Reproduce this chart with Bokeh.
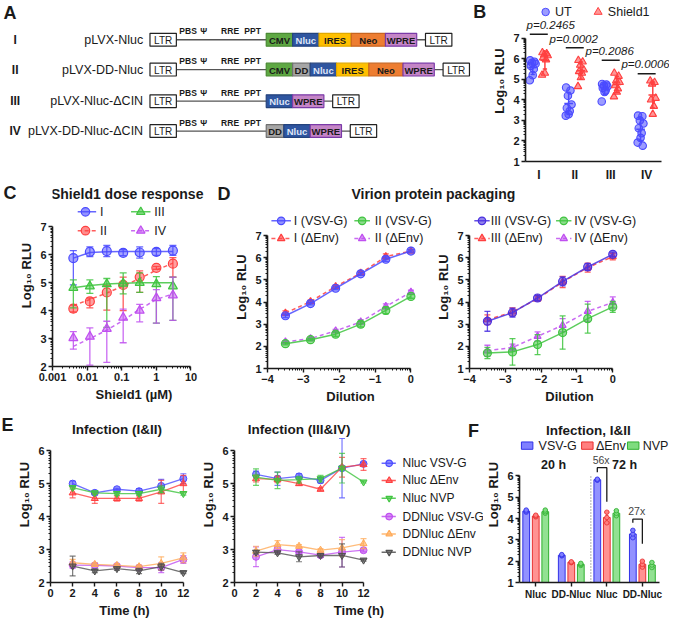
import numpy as np
from bokeh.plotting import figure
from bokeh.models import Range1d, FixedTicker, Label
from bokeh.layouts import row, column
from bokeh.embed import file_html
from bokeh.resources import INLINE
from bokeh.core.properties import value

FONT = "Liberation Sans"
INK = "#1a1a1a"
BLUE = "#4b4bff"
RED = "#ff4040"
GREEN = "#40c440"
PURPLE = "#c050f0"
ORANGE = "#ffab5a"
GRAY = "#505050"
INDIGO = "#4a30e0"

# ---------------- data ----------------
# A: constructs
A_roman = ["I", "II", "III", "IV"]
A_names = ["pLVX-Nluc", "pLVX-DD-Nluc", "pLVX-Nluc-ΔCIN", "pLVX-DD-Nluc-ΔCIN"]
A_cassettes = [["CMV", "Nluc", "IRES", "Neo", "WPRE"],
               ["CMV", "DD", "Nluc", "IRES", "Neo", "WPRE"],
               ["Nluc", "WPRE"],
               ["DD", "Nluc", "WPRE"]]
A_sites = ["PBS", "Ψ", "RRE", "PPT"]

# B: Log10 RLU per replicate
B_groups = ["I", "II", "III", "IV"]
B_UT = [[5.92, 5.85, 5.80, 5.75, 5.65, 5.50, 5.20, 4.95],
        [4.60, 4.45, 4.20, 3.77, 3.60, 3.45, 3.30, 3.23],
        [4.77, 4.74, 4.69, 4.65, 4.58, 4.46, 4.38, 3.92],
        [3.23, 3.20, 3.00, 2.85, 2.62, 2.38, 2.15, 1.92, 1.77]]
B_S1 = [[6.30, 6.25, 6.20, 6.15, 6.05, 5.95, 5.30, 5.20],
        [5.92, 5.85, 5.69, 5.46, 5.38, 5.30, 5.08, 4.65],
        [5.30, 5.15, 4.92, 4.85, 4.69, 4.54, 4.38, 4.15],
        [4.92, 4.85, 4.77, 4.08, 4.00, 3.69, 3.30]]
B_p = ["p=0.2465", "p=0.0002", "p=0.2086", "p=0.0006"]

# C: Shield1 dose response
C_dose = [0.004, 0.012, 0.037, 0.11, 0.33, 1.0, 3.0]
C_names = ["I", "II", "III", "IV"]
C_mean = [[5.88, 6.10, 6.13, 6.07, 6.08, 6.10, 6.15],
          [4.07, 4.33, 4.65, 4.92, 5.20, 5.53, 5.68],
          [4.82, 4.87, 4.95, 4.97, 5.00, 4.95, 4.87],
          [3.02, 3.07, 3.35, 3.75, 4.00, 4.45, 4.55]]
C_lo = [[4.92, 5.93, 5.93, 5.97, 5.88, 5.98, 5.98],
        [3.95, 4.10, 4.02, 4.00, 4.65, 5.48, 5.20],
        [4.10, 4.62, 3.40, 4.60, 4.65, 3.55, 3.65],
        [2.62, 2.05, 2.15, 2.85, 3.60, 3.55, 3.65]]
C_hi = [[6.15, 6.28, 6.33, 6.18, 6.28, 6.22, 6.33],
        [4.20, 4.45, 4.90, 5.20, 5.42, 5.58, 5.90],
        [5.10, 5.10, 5.15, 5.35, 5.35, 5.22, 5.20],
        [3.25, 3.38, 3.62, 4.05, 4.22, 4.75, 5.20]]
C_fit = [[5.88, 6.08, 6.11, 6.12, 6.12, 6.12, 6.12],
         [4.18, 4.40, 4.63, 4.88, 5.15, 5.45, 5.70],
         [4.82, 4.90, 4.95, 4.98, 5.00, 5.00, 5.00],
         [2.72, 3.00, 3.30, 3.65, 4.05, 4.40, 4.60]]

# D: virion protein packaging
D_dil = [-3.5, -2.8, -2.1, -1.4, -0.7, 0.0]
D_left_names = ["I (VSV-G)", "II (VSV-G)", "I (ΔEnv)", "II (ΔEnv)"]
D_left_mean = [[3.38, 3.93, 4.62, 5.27, 5.93, 6.30],
               [2.12, 2.30, 2.55, 3.00, 3.62, 4.25],
               [3.50, 4.02, 4.70, 5.30, 6.05, 6.30],
               [2.20, 2.35, 2.70, 3.10, 3.80, 4.45]]
D_left_err = [[0.08, 0.06, 0.06, 0.07, 0.10, 0.05],
              [0.05, 0.05, 0.10, 0.12, 0.15, 0.08],
              [0.10, 0.06, 0.06, 0.06, 0.12, 0.06],
              [0.05, 0.05, 0.06, 0.10, 0.12, 0.08]]
D_right_names = ["III (VSV-G)", "IV (VSV-G)", "III (ΔEnv)", "IV (ΔEnv)"]
D_right_mean = [[3.13, 3.52, 4.18, 4.93, 5.58, 6.15],
                [1.70, 1.75, 2.08, 2.62, 3.25, 3.78],
                [3.20, 3.55, 4.15, 4.90, 5.55, 6.05],
                [1.80, 1.95, 2.45, 2.95, 3.58, 3.98]]
D_right_err = [[0.45, 0.20, 0.12, 0.20, 0.15, 0.10],
               [0.25, 0.60, 0.45, 0.75, 0.65, 0.25],
               [0.22, 0.18, 0.12, 0.25, 0.20, 0.15],
               [0.25, 0.15, 0.20, 0.30, 0.45, 0.25]]

# E: infection time course
E_time = [2, 4, 6, 8, 10, 12]
E_names = ["Nluc VSV-G", "Nluc ΔEnv", "Nluc NVP", "DDNluc VSV-G", "DDNluc ΔEnv", "DDNluc NVP"]
E12_mean = [[5.00, 4.72, 4.83, 4.77, 4.93, 5.15],
            [4.72, 4.55, 4.55, 4.55, 4.75, 5.00],
            [4.88, 4.72, 4.70, 4.70, 4.83, 4.70],
            [2.53, 2.52, 2.50, 2.45, 2.45, 2.70],
            [2.60, 2.55, 2.52, 2.48, 2.58, 2.75],
            [2.50, 2.35, 2.42, 2.35, 2.48, 2.30]]
E12_err = [[0.08, 0.05, 0.03, 0.08, 0.20, 0.15],
           [0.15, 0.15, 0.08, 0.08, 0.35, 0.25],
           [0.05, 0.05, 0.05, 0.05, 0.10, 0.05],
           [0.10, 0.05, 0.05, 0.05, 0.15, 0.12],
           [0.10, 0.05, 0.05, 0.05, 0.20, 0.15],
           [0.30, 0.05, 0.05, 0.08, 0.10, 0.03]]
E34_mean = [[5.28, 5.15, 5.22, 5.10, 5.47, 5.60],
            [5.15, 5.13, 5.00, 4.83, 5.50, 5.58],
            [5.20, 5.10, 5.12, 5.15, 5.47, 5.05],
            [2.78, 3.00, 2.93, 2.83, 2.92, 2.98],
            [2.95, 3.15, 3.10, 2.98, 3.05, 3.18],
            [2.92, 2.90, 2.78, 2.82, 2.82, 2.68]]
E34_err = [[0.10, 0.20, 0.08, 0.08, 0.90, 0.05],
           [0.10, 0.10, 0.05, 0.05, 0.30, 0.18],
           [0.25, 0.25, 0.10, 0.10, 0.45, 0.03],
           [0.30, 0.10, 0.05, 0.05, 0.45, 0.05],
           [0.15, 0.12, 0.05, 0.05, 0.25, 0.15],
           [0.05, 0.05, 0.15, 0.05, 0.35, 0.03]]

# F: infection I&II bars (replicates)
F_groups = ["Nluc", "DD-Nluc", "Nluc", "DD-Nluc"]
F_conditions = ["VSV-G", "ΔEnv", "NVP"]
F_reps = [
    [[4.30, 4.35, 4.40], [2.25, 2.28, 2.31], [5.80, 5.82, 5.85], [3.10, 3.28, 3.45]],
    [[4.08, 4.12, 4.16], [1.93, 1.95, 1.97], [3.80, 4.05, 4.30], [1.72, 1.85, 2.00]],
    [[4.25, 4.32, 4.40], [1.80, 1.85, 1.90], [4.13, 4.25, 4.37], [1.70, 1.82, 1.94]],
]
F_fold = ["56x", "27x"]


# ---------------- helpers ----------------
def log_minor(lo, hi):
    return [k + np.log10(m) for k in range(lo, hi) for m in range(2, 10)]


def style_axes(p):
    for ax in p.axis:
        ax.axis_line_width = 1.6
        ax.axis_line_color = INK
        ax.major_tick_line_width = 1.4
        ax.major_tick_line_color = INK
        ax.minor_tick_line_width = 1.0
        ax.minor_tick_line_color = INK
        ax.major_tick_in = 0
        ax.major_tick_out = 4
        ax.minor_tick_in = 0
        ax.minor_tick_out = 2
        ax.major_label_text_font = FONT
        ax.major_label_text_font_style = "bold"
        ax.major_label_text_font_size = "11px"
        ax.major_label_text_color = INK
        ax.major_label_standoff = 2
        ax.axis_label_text_font = FONT
        ax.axis_label_text_font_style = "bold"
        ax.axis_label_text_font_size = "13px"
        ax.axis_label_text_color = INK
        ax.axis_label_standoff = 3


def mkfig(w, h, xr, yr, left, bottom, x_type="linear"):
    p = figure(width=w, height=h, x_range=Range1d(*xr), y_range=Range1d(*yr),
               x_axis_type=x_type, output_backend="svg", toolbar_location=None,
               min_border_left=left, min_border_right=0, min_border_top=0,
               min_border_bottom=bottom)
    p.outline_line_color = None
    p.xgrid.visible = False
    p.ygrid.visible = False
    style_axes(p)
    return p


def blank(w, h, xr, yr):
    p = figure(width=w, height=h, x_range=Range1d(*xr), y_range=Range1d(*yr),
               x_axis_location=None, y_axis_location=None, min_border=0,
               output_backend="svg", toolbar_location=None)
    p.outline_line_color = None
    p.grid.visible = False
    return p


def lbl(p, x, y, text, size="12px", style="normal", align="left", color=INK):
    p.add_layout(Label(x=x, y=y, text=text, text_font=FONT, text_font_size=size,
                       text_font_style=style, text_align=align, text_baseline="middle",
                       text_color=color))


def errbars(p, x, lo, hi, color, cap=6, width=1.3, alpha=0.85):
    x = list(x)
    p.segment(x0=x, y0=list(lo), x1=x, y1=list(hi), line_color=color,
              line_width=width, line_alpha=alpha)
    p.scatter(x=x * 2, y=list(lo) + list(hi), marker="dash", size=cap,
              line_color=color, line_width=width, line_alpha=alpha)


def legend_item(p, x0, x1, xm, xt, y, color, marker, dash, text, size=8, tsize="12.5px"):
    p.segment(x0=[x0], y0=[y], x1=[x1], y1=[y], line_color=color, line_width=1.5,
              line_dash=dash, line_alpha=0.85)
    p.scatter(x=[xm], y=[y], marker=marker, size=size, fill_color=color, fill_alpha=0.6,
              line_color=color, line_width=1.2)
    lbl(p, xt, y, text, tsize)


# ---------------- panel A (also hosts letter B) ----------------
pa = blank(489, 184, (0, 489 / 0.977), (188.7, 0))
ELEM_W = {"CMV": 27, "DD": 18, "Nluc": 27, "IRES": 33, "Neo": 35, "WPRE": 32, "LTR": 27}
ELEM_FILL = {"CMV": "#5ea843", "DD": "#a6a6a6", "Nluc": "#2e55a0", "IRES": "#ffc000",
             "Neo": "#ed7d31", "WPRE": "#c485c6", "LTR": "#ffffff"}
ELEM_LINE = {"CMV": "#4a8a33", "DD": "#707070", "Nluc": "#24437d", "IRES": "#e0a800",
             "Neo": "#c86520", "WPRE": "#7a3aa8", "LTR": "#222222"}
ELEM_TXT = {"Nluc": "#dfe5f7"}
rows_y = [46, 81, 118, 153]
site_x = [192, 208, 235, 258]
q = dict(l=[], r=[], t=[], b=[], f=[], c=[])
segs = dict(x0=[], x1=[], y=[])
for i, (rn, name, cas) in enumerate(zip(A_roman, A_names, A_cassettes)):
    y = rows_y[i]
    lbl(pa, 15, y, rn, "12px", "bold", "center")
    lbl(pa, 146, y, name, "12.5px", "normal", "right")
    elems = [("LTR", 153)]
    x = 272
    for e in cas:
        elems.append((e, x))
        x += ELEM_W[e]
    segs["x0"] += [180, x]
    segs["x1"] += [272, x + 9]
    segs["y"] += [y, y]
    elems.append(("LTR", x + 9))
    for e, x0 in elems:
        w = ELEM_W[e]
        q["l"].append(x0); q["r"].append(x0 + w)
        q["t"].append(y - 7.5); q["b"].append(y + 7.5)
        q["f"].append(ELEM_FILL[e]); q["c"].append(ELEM_LINE[e])
        lbl(pa, x0 + w / 2, y + 0.5, e, "10px" if e == "LTR" else "9.5px",
            "normal" if e == "LTR" else "bold", "center", ELEM_TXT.get(e, INK))
    for s, sx in zip(A_sites, site_x):
        lbl(pa, sx, y - 10, s, "8.5px", "bold", "center")
pa.segment(x0=segs["x0"], y0=segs["y"], x1=segs["x1"], y1=segs["y"], line_color="#555555",
           line_width=1.3)
pa.quad(left=q["l"], right=q["r"], top=q["t"], bottom=q["b"], fill_color=q["f"],
        line_color=q["c"], line_width=1.2)
lbl(pa, 3, 15, "A", "18px", "bold", "left")
lbl(pa, 484, 13, "B", "18px", "bold", "left")

# ---------------- panel B ----------------
pb = mkfig(180, 184, (0.63, 4.635), (1, 8.83), 33, 21)
pb.xaxis.bounds = (0.63, 4.42)
pb.yaxis.bounds = (1, 7)
pb.xaxis.ticker = FixedTicker(ticks=[1, 2, 3, 4])
pb.xaxis.major_label_overrides = {i + 1: g for i, g in enumerate(B_groups)}
pb.xaxis.major_tick_out = 0
pb.xaxis.major_label_standoff = 6
pb.xaxis.major_label_text_font_size = "12px"
pb.yaxis.ticker = FixedTicker(ticks=list(range(1, 8)), minor_ticks=log_minor(1, 7))
pb.yaxis.axis_label = "Log₁₀ RLU"
JIT = [-0.07, 0.05, -0.02, 0.08, -0.05, 0.03, 0.0, -0.08, 0.06]
for gi, (ut, s1) in enumerate(zip(B_UT, B_S1)):
    xc = gi + 1
    for vals, off, color, marker in ((ut, -0.17, BLUE, "circle"), (s1, 0.17, RED, "triangle")):
        xs = [xc + off + JIT[k] for k in range(len(vals))]
        pb.scatter(xs, vals, marker=marker, size=7.5, fill_color=color, fill_alpha=0.55,
                   line_color=color, line_width=1.1)
        m = float(np.mean(vals)); sd = float(np.std(vals, ddof=1))
        xm = xc + off
        pb.segment(x0=[xm, xm - 0.12, xm - 0.06, xm - 0.06], y0=[m - sd, m, m - sd, m + sd],
                   x1=[xm, xm + 0.12, xm + 0.06, xm + 0.06], y1=[m + sd, m, m - sd, m + sd],
                   line_color=color, line_width=1.5)
B_line_y = [7.19, 6.53, 5.92, 5.27]
B_text_y = [7.66, 6.95, 6.39, 5.73]
pb.segment(x0=[g + 0.75 for g in range(4)], y0=B_line_y, x1=[g + 1.25 for g in range(4)],
           y1=B_line_y, line_color=INK, line_width=1.5)
lbl(pb, 0.66, B_text_y[0], B_p[0], "11.5px", "italic", "left")
for gi in range(1, 4):
    lbl(pb, gi + 0.97, B_text_y[gi], B_p[gi], "11.5px", "italic", "center")
pb.scatter([1.19], [8.27], marker="circle", size=7.5, fill_color=BLUE, fill_alpha=0.55,
           line_color=BLUE)
lbl(pb, 1.45, 8.27, "UT", "12.5px")
pb.scatter([2.65], [8.27], marker="triangle", size=8, fill_color=RED, fill_alpha=0.55,
           line_color=RED)
lbl(pb, 2.92, 8.27, "Shield1", "12.5px")

# ---------------- panel C ----------------
plc = blank(16, 222, (0, 16 / 0.977), (188.7 + 222 / 0.975, 188.7))
lbl(plc, 3, 199, "C", "18px", "bold")
cx = lambda rx: 10 ** (-3 + (rx - 52) / 35.7)
cy = lambda ry: 7 + (232 - ry) / 28.6
pc = mkfig(199, 222, (0.001, cx(16 / 0.977 + 199 / 0.977)), (2, cy(188.7)), 35, 40, "log")
pc.xaxis.bounds = (0.001, 10)
pc.yaxis.bounds = (2, 7)
pc.xaxis.ticker = FixedTicker(ticks=[0.001, 0.01, 0.1, 1, 10],
                              minor_ticks=[m * 10.0 ** d for d in range(-3, 1) for m in range(2, 10)])
pc.xaxis.major_label_overrides = {0.001: "0.001", 0.01: "0.01", 0.1: "0.1", 1: "1", 10: "10"}
pc.yaxis.ticker = FixedTicker(ticks=list(range(2, 8)), minor_ticks=log_minor(2, 7))
pc.xaxis.axis_label = "Shield1 (µM)"
pc.yaxis.axis_label = "Log₁₀ RLU"
C_style = [(BLUE, "circle", "solid"), (RED, "circle", "4 3"),
           (GREEN, "triangle", "solid"), (PURPLE, "triangle", "4 3")]
for si, (color, marker, dash) in enumerate(C_style):
    errbars(pc, C_dose, C_lo[si], C_hi[si], color, 7)
    pc.line(C_dose, C_fit[si], line_color=color, line_width=1.5, line_dash=dash, line_alpha=0.85)
    pc.scatter(C_dose, C_mean[si], marker=marker, size=9, fill_color=color, fill_alpha=0.5,
               line_color=color, line_width=1.2)
C_leg_pos = [(78, 97, 86, 101, 216.7), (78, 97, 86, 101, 236), (133, 153, 143, 157, 216.7),
             (133, 153, 143, 157, 236)]
for si in range(4):
    x0, x1, xm, xt, yy = C_leg_pos[si]
    color, marker, dash = C_style[si]
    legend_item(pc, cx(x0), cx(x1), cx(xm), cx(xt), cy(yy), color, marker, dash, C_names[si], 8.5)
lbl(pc, cx(129), cy(198), "Shield1 dose response", "14px", "bold", "center")

# ---------------- panel D ----------------
pdh = blank(454, 21, (220, 220 + 454 / 0.977), (210.2, 188.7))
lbl(pdh, 222, 198.5, "D", "18px", "bold")
lbl(pdh, 443, 198.5, "Virion protein packaging", "14px", "bold", "center")

d_y = lambda ry: 7 + (241 - ry) / 22.67
D_style_l = [(BLUE, "circle", "solid"), (GREEN, "circle", "solid"),
             (RED, "triangle", "4 3"), (PURPLE, "triangle", "4 3")]
D_style_r = [(INDIGO, "circle", "solid"), (GREEN, "circle", "solid"),
             (RED, "triangle", "4 3"), (PURPLE, "triangle", "4 3")]


def dplot(w, left, fx, right_rx, means, errs, names, styles, legx):
    p = mkfig(w, 201, (-4, fx(right_rx)), (1, d_y(210.3)), left, 38)
    p.xaxis.bounds = (-4, 0)
    p.yaxis.bounds = (1, 7)
    p.xaxis.ticker = FixedTicker(ticks=[-4, -3, -2, -1, 0], minor_ticks=log_minor(-4, 0))
    p.yaxis.ticker = FixedTicker(ticks=list(range(1, 8)), minor_ticks=log_minor(1, 7))
    p.xaxis.axis_label = "Dilution"
    p.yaxis.axis_label = "Log₁₀ RLU"
    for si in [2, 3, 0, 1]:
        color, marker, dash = styles[si]
        lo = [m - e for m, e in zip(means[si], errs[si])]
        hi = [m + e for m, e in zip(means[si], errs[si])]
        errbars(p, D_dil, lo, hi, color, 6)
        p.line(D_dil, means[si], line_color=color, line_width=1.5, line_dash=dash, line_alpha=0.85)
        p.scatter(D_dil, means[si], marker=marker, size=8 if marker == "circle" else 7,
                  fill_color=color, fill_alpha=0.55, line_color=color, line_width=1.2)
    for si in range(4):
        color, marker, dash = styles[si]
        x0, x1, xm, xt = legx[si % 2]
        yy = d_y(226) if si < 2 else d_y(244)
        legend_item(p, fx(x0), fx(x1), fx(xm), fx(xt), yy, color, marker, dash, names[si], 7.5)
    return p


dl_x = lambda rx: -4 + (rx - 273) / 36.75
dr_x = lambda rx: -4 + (rx - 477) / 37.25
pdl = dplot(218, 52, dl_x, 220 + 218 / 0.977, D_left_mean, D_left_err, D_left_names, D_style_l,
            [(277, 297, 287, 300), (362, 378, 370, 383)])
pdr = dplot(236, 33, dr_x, 685, D_right_mean, D_right_err, D_right_names, D_style_r,
            [(482, 498, 490, 499), (567, 583, 575, 586)])

# ---------------- panel E ----------------
e_y = lambda ry: 6 + (462 - ry) / 34
ple = blank(14, 214, (0, 14 / 0.977), (416.4 + 214 / 0.975, 416.4))
lbl(ple, 1, 440, "E", "18px", "bold")
E_style = [(BLUE, "circle"), (RED, "triangle"), (GREEN, "inverted_triangle"),
           (PURPLE, "circle"), (ORANGE, "triangle"), (GRAY, "inverted_triangle")]


def eplot(w, left, fx, right_rx, means, errs, title):
    p = mkfig(w, 214, (0, fx(right_rx)), (2, e_y(416.4)), left, 37)
    p.xaxis.bounds = (0, 12)
    p.yaxis.bounds = (2, 6)
    p.xaxis.ticker = FixedTicker(ticks=list(range(0, 13, 2)))
    p.yaxis.ticker = FixedTicker(ticks=list(range(2, 7)), minor_ticks=log_minor(2, 6))
    p.xaxis.axis_label = "Time (h)"
    p.yaxis.axis_label = "Log₁₀ RLU"
    for si in range(6):
        color, marker = E_style[si]
        lo = [m - e for m, e in zip(means[si], errs[si])]
        hi = [m + e for m, e in zip(means[si], errs[si])]
        errbars(p, E_time, lo, hi, color, 6, 1.2, 0.75)
        p.line(E_time, means[si], line_color=color, line_width=1.3, line_alpha=0.8)
        p.scatter(E_time, means[si], marker=marker, size=7, fill_color=color, fill_alpha=0.6,
                  line_color=color, line_width=1.0)
    lbl(p, 6, e_y(440), title, "13.5px", "bold", "center")
    return p


el_x = lambda rx: (rx - 50) / 11.42
er_x = lambda rx: (rx - 232) / 11.33
E_left_end = (14 + 184) / 0.977
E_right_end = (14 + 184 + 285) / 0.977
pel = eplot(184, 35, el_x, E_left_end, E12_mean, E12_err, "Infection (I&II)")
per = eplot(285, 29, er_x, E_right_end, E34_mean, E34_err, "Infection (III&IV)")
E_leg_y = [475, 492.7, 511, 530, 548, 566.7]
for si in range(6):
    color, marker = E_style[si]
    legend_item(per, er_x(387), er_x(402), er_x(395), er_x(409), e_y(E_leg_y[si]), color, marker,
                "solid", E_names[si], 6.5, "12px")
lbl(per, er_x(478), e_y(442), "F", "18px", "bold")

# ---------------- panel F ----------------
f_x = lambda rx: 1 + (rx - 545) / 37.2
f_y = lambda ry: 6 + (492 - ry) / 23.2
pf = mkfig(186, 214, (f_x(528), f_x(685)), (1, f_y(416.4)), 33, 27)
pf.xaxis.bounds = (f_x(528), f_x(675))
pf.yaxis.bounds = (1, 6)
pf.xaxis.ticker = FixedTicker(ticks=[1, 2, 3, 4])
pf.xaxis.major_label_overrides = {i + 1: g for i, g in enumerate(F_groups)}
pf.xaxis.major_label_text_font_size = "10px"
pf.yaxis.ticker = FixedTicker(ticks=list(range(1, 7)), minor_ticks=log_minor(1, 6))
pf.yaxis.axis_label = "Log₁₀ RLU"
F_fill = ["#7f7fff", "#ff7f7f", "#7fdc7f"]
F_edge = ["#3030e8", "#e83030", "#30b030"]
F_off = [-0.268, 0.0, 0.268]
for ci, reps in enumerate(F_reps):
    xs = [g + 1 + F_off[ci] for g in range(4)]
    means = [float(np.mean(r)) for r in reps]
    sds = [float(np.std(r, ddof=1)) for r in reps]
    pf.vbar(x=xs, width=0.19, bottom=1, top=means, fill_color=F_fill[ci], fill_alpha=0.85,
            line_color=F_edge[ci], line_width=1.0)
    errbars(pf, xs, [m - s for m, s in zip(means, sds)], [m + s for m, s in zip(means, sds)],
            F_edge[ci], 5, 1.2, 0.9)
    for g in range(4):
        pf.scatter([xs[g]] * len(reps[g]), reps[g], marker="circle", size=4.5,
                   fill_color=F_fill[ci], line_color=F_edge[ci], line_width=0.8)
pf.segment(x0=[2.55], y0=[1], x1=[2.55], y1=[6.05], line_color="#777777", line_width=1.2,
           line_dash="1 2")
br = [(3 + F_off[0], 3.0, 6.17, 6.39, 4.79), (4 + F_off[0], 4.0, 3.80, 3.97, 2.82)]
for (xa, xb, ya, ytop, yb) in br:
    pf.line([xa, xa, xb, xb], [ya, ytop, ytop, yb], line_color=INK, line_width=1.3)
lbl(pf, 2.84, f_y(475), F_fold[0], "10.5px", "normal", "center", "#444444")
lbl(pf, 3.84, f_y(530), F_fold[1], "10.5px", "normal", "center", "#444444")
lbl(pf, 1.5, f_y(480), "20 h", "12.5px", "bold", "center")
lbl(pf, 3.5, f_y(480), "72 h", "12.5px", "bold", "center")
lbl(pf, f_x(600), f_y(442), "Infection, I&II", "13.5px", "bold", "center")
F_leg = [(536, 548), (599, 608), (647, 657)]
for ci, (bx, tx) in enumerate(F_leg):
    pf.quad(left=[f_x(bx - 6)], right=[f_x(bx + 6)], top=[f_y(455)], bottom=[f_y(463)],
            fill_color=F_fill[ci], line_color=F_edge[ci], line_width=1.0)
    lbl(pf, f_x(tx), f_y(459), F_conditions[ci], "12.5px")

layout = column(row(pa, pb),
                row(plc, pc, column(pdh, row(pdl, pdr))),
                row(ple, pel, per, pf))
open("out.html", "w").write(file_html(layout, INLINE))
